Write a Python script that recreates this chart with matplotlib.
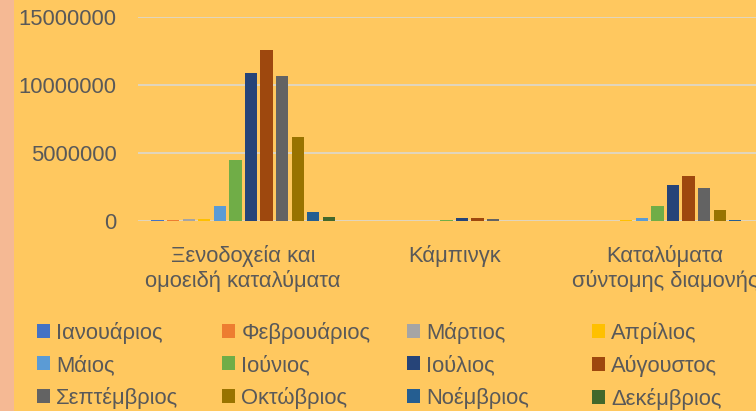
import matplotlib
matplotlib.use("Agg")
import matplotlib.pyplot as plt
from matplotlib.patches import Rectangle
import numpy as np

categories = ["Ξενοδοχεία και\nομοειδή καταλύματα", "Κάμπινγκ", "Καταλύματα\nσύντομης διαμονής"]
months = ["Ιανουάριος", "Φεβρουάριος", "Μάρτιος", "Απρίλιος", "Μάιος", "Ιούνιος",
          "Ιούλιος", "Αύγουστος", "Σεπτέμβριος", "Οκτώβριος", "Νοέμβριος", "Δεκέμβριος"]
jan = [100000, 5000, 5000]
feb = [100000, 5000, 8000]
mar = [170000, 10000, 15000]
apr = [130000, 20000, 50000]
may = [1130000, 20000, 200000]
jun = [4490000, 80000, 1080000]
jul = [10900000, 200000, 2630000]
aug = [12590000, 240000, 3310000]
sep = [10700000, 150000, 2410000]
octo = [6190000, 20000, 790000]
nov = [690000, 8000, 100000]
dec = [290000, 5000, 20000]
series = [jan, feb, mar, apr, may, jun, jul, aug, sep, octo, nov, dec]
colors = ["#4472C4", "#ED7D31", "#A5A5A5", "#FFC000", "#5B9BD5", "#70AD47",
          "#264478", "#9E480E", "#636363", "#997300", "#255E91", "#43682B"]
yticks = [0, 5000000, 10000000, 15000000]

BG = "#FFC85F"
TXT = "#595959"
FS = 15.8
plt.rcParams['font.family'] = ['Liberation Sans', 'DejaVu Sans']

W, H = 756, 411
fig = plt.figure(figsize=(W / 100, H / 100), dpi=100)
fig.patch.set_facecolor(BG)
fig.add_artist(Rectangle((0, 0), 14 / W, 1, transform=fig.transFigure,
                         facecolor="#F5B994", edgecolor="none", zorder=0))

ax_left = 137.7 / W
ax_w = 633 / W
ax_bot = (H - 221) / H
ax_top = (H - 17.3) / H
ax = fig.add_axes([ax_left, ax_bot, ax_w, ax_top - ax_bot])
ax.set_facecolor(BG)

x = np.arange(len(categories))
slot = 0.0739
bw = 0.058
handles = []
for i, (vals, c) in enumerate(zip(series, colors)):
    h = ax.bar(x + (i - 5.5) * slot, vals, width=bw, color=c, zorder=3, label=months[i])
    handles.append(h)

ax.set_xlim(-0.5, 2.5)
ax.set_ylim(0, 15000000)
ax.set_yticks(yticks)
ax.set_yticklabels([str(v) for v in yticks])
ax.grid(axis='y', color="#D9D9D9", lw=1.1, zorder=0)
ax.set_axisbelow(True)
for s in ax.spines.values():
    s.set_visible(False)
ax.tick_params(axis='y', length=0, pad=15, labelsize=FS, labelcolor=TXT)
ax.set_xticks(x)
ax.set_xticklabels(categories, linespacing=1.2)
ax.tick_params(axis='x', length=0, pad=17, labelsize=FS, labelcolor=TXT)

col_x = [37, 222, 407, 592]
for c in range(4):
    hs = [handles[c], handles[c + 4], handles[c + 8]]
    fig.legend(handles=hs, labels=[months[c], months[c + 4], months[c + 8]],
               loc='upper left', bbox_to_anchor=(col_x[c] / W, (H - 322) / H),
               frameon=False, fontsize=FS, labelcolor=TXT,
               handlelength=0.6, handleheight=0.6, handletextpad=0.28,
               labelspacing=0.5, borderpad=0, borderaxespad=0)

fig.savefig("out.png", dpi=100, facecolor=BG)
